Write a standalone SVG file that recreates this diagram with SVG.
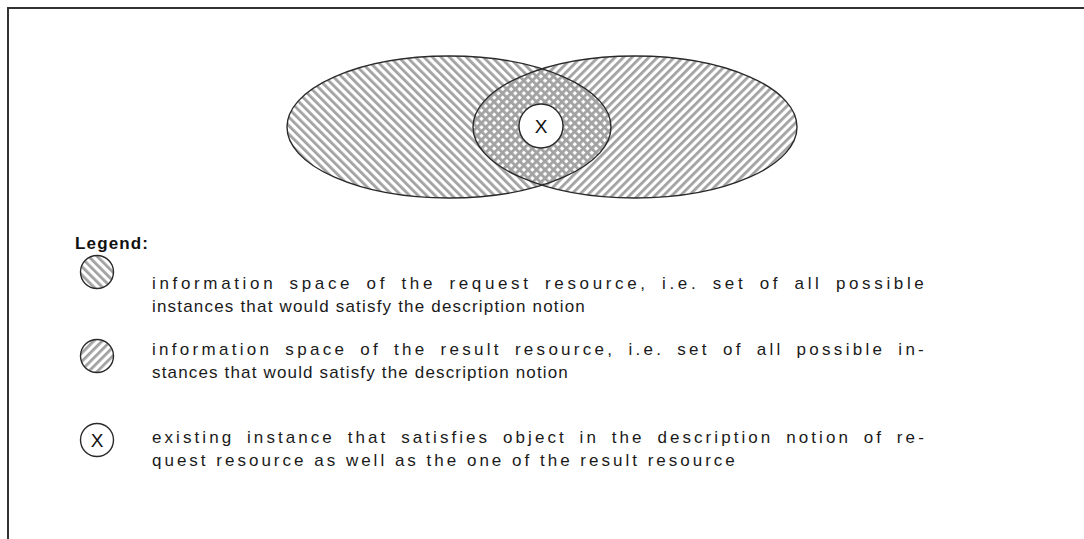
<svg xmlns="http://www.w3.org/2000/svg" width="1084" height="539" viewBox="0 0 1084 539">
<style>
.outline{fill:none;stroke:#2a2a2a;stroke-width:1.4}
.txt{font-family:"Liberation Sans",Arial,sans-serif;font-size:17px;letter-spacing:1.2px;fill:#1a1a1a}
.just{word-spacing:5px}
.legend{font-family:"Liberation Sans",Arial,sans-serif;font-size:17px;font-weight:bold;fill:#111}
.xlbl{font-family:"Liberation Sans",Arial,sans-serif;font-size:19px;fill:#111;text-anchor:middle}
</style>
<defs>
<pattern id="back" width="6" height="6" patternUnits="userSpaceOnUse" patternTransform="rotate(-45)">
<rect width="2.8" height="6" fill="#a2a2a2"/>
</pattern>
<pattern id="fwd" width="6" height="6" patternUnits="userSpaceOnUse" patternTransform="rotate(45)">
<rect width="2.8" height="6" fill="#a2a2a2"/>
</pattern>
</defs>
<rect width="1084" height="539" fill="#fff"/>
<path d="M8 539 V8 H1084" fill="none" stroke="#333" stroke-width="2"/>
<g id="request-space">
<ellipse cx="449" cy="127" rx="162" ry="71" fill="url(#back)"/>
</g>
<g id="result-space">
<ellipse cx="635" cy="127" rx="162" ry="71" fill="url(#fwd)"/>
</g>
<g id="outlines">
<ellipse class="outline" cx="449" cy="127" rx="162" ry="71"/>
<ellipse class="outline" cx="635" cy="127" rx="162" ry="71"/>
</g>
<g id="instance">
<circle cx="541" cy="126" r="22" fill="#fff" stroke="#2a2a2a" stroke-width="1.4"/>
<text class="xlbl" x="541" y="133">X</text>
</g>
<g id="legend">
<text class="legend" x="75" y="249" textLength="73" lengthAdjust="spacing">Legend:</text>
<g id="legend-request">
<circle cx="97" cy="272" r="16.5" fill="#fff"/>
<circle cx="97" cy="272" r="16.5" fill="url(#back)" stroke="#2a2a2a" stroke-width="1.4"/>
<text class="txt just" x="152" y="289" textLength="773" lengthAdjust="spacing">information space of the request resource, i.e. set of all possible</text>
<text class="txt" x="152" y="312" textLength="434" lengthAdjust="spacing">instances that would satisfy the description notion</text>
</g>
<g id="legend-result">
<circle cx="97" cy="356" r="16.5" fill="#fff"/>
<circle cx="97" cy="356" r="16.5" fill="url(#fwd)" stroke="#2a2a2a" stroke-width="1.4"/>
<text class="txt just" x="152" y="355" textLength="773" lengthAdjust="spacing">information space of the result resource, i.e. set of all possible in-</text>
<text class="txt" x="152" y="378" textLength="417" lengthAdjust="spacing">stances that would satisfy the description notion</text>
</g>
<g id="legend-instance">
<circle cx="97" cy="440" r="16.5" fill="#fff" stroke="#2a2a2a" stroke-width="1.4"/>
<text class="xlbl" x="97" y="447">X</text>
<text class="txt just" x="152" y="443" textLength="773" lengthAdjust="spacing">existing instance that satisfies object in the description notion of re-</text>
<text class="txt" x="152" y="466" textLength="584" lengthAdjust="spacing">quest resource as well as the one of the result resource</text>
</g>
</g>
</svg>
